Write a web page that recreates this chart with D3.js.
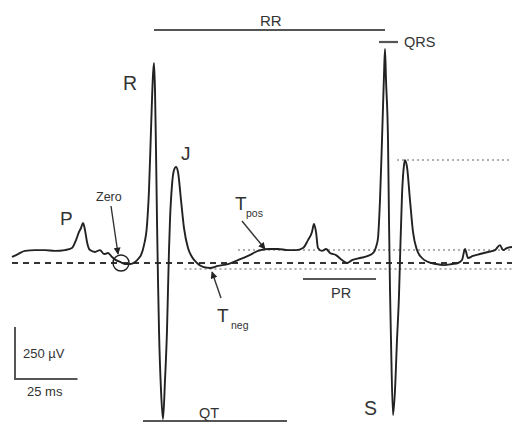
<!DOCTYPE html>
<html><head><meta charset="utf-8">
<script src="https://cdn.jsdelivr.net/npm/d3@7"></script>
<style>html,body{margin:0;padding:0;background:#fff;}svg{display:block;font-family:"Liberation Sans",Arial,sans-serif;}</style>
</head><body>
<svg id="c" width="512" height="423"></svg>
<script>
// time (ms) and potential (µV) of the recorded trace
const timeMs = [0,2.4,5.2,9.2,13.2,17.2,21.2,24,25.6,26.8,27.6,28.4,29.2,30,31.2,33.2,35.2,36.8,38.4,40,41.6,43.2,45.2,47.2,49.2,50.8,51.6,52.8,54,54.8,55.6,56.4,56.8,57.2,57.6,58,58.4,58.8,59.6,60.4,61.2,62,62.4,62.8,63.2,64,64.8,65.6,66.4,67.6,68.8,70.4,72,74,76.4,79.2,82.4,86.4,90.4,94.4,98.4,102.4,106.4,110.4,113.6,116.4,118.4,120,120.8,121.6,122.4,124,125.6,127.2,129.6,132,134,136,139.2,142.4,144.8,145.6,146.4,147.2,148,148.8,149.2,149.6,150.4,150.8,151.2,151.6,152.4,153.2,154,154.8,155.2,156,156.8,157.2,158,159.2,160.4,162,164,166.4,169.6,172.8,176,178.4,180,181.2,182.4,184.4,187.2,190.4,193.2,195.2,196.4,198,200];
const microV = [29,43,58,62,62,58,62,72,110,149,168,192,158,101,62,53,62,43,48,29,14,5,-5,-5,5,24,38,86,182,350,638,902,960,830,542,206,-82,-322,-610,-749,-562,-322,-130,62,206,374,446,461,437,302,168,72,29,0,-19,-24,-14,-5,14,34,58,67,67,62,62,72,110,149,187,149,72,58,67,48,38,14,0,14,24,34,53,77,120,302,590,902,1027,878,590,206,-130,-370,-730,-610,-370,-154,14,326,470,494,461,302,149,62,24,5,-5,-10,-5,0,14,67,24,34,43,53,62,86,62,72,77];

// interval annotations (ms)
const intervalLabels = ["RR","QRS","PR","QT"];
const intervalStart  = [56.8,146.8,116.4,52.4];
const intervalEnd    = [149.2,154.4,145.6,110];

// reference levels (µV) and the time they start (ms)
const levelValues = [494,62,-29];
const levelStart  = [154,90.4,69];

// wave labels
const waveLabels = ["P","R","J","S"];
// scale bar
const scaleBarMs = 25, scaleBarUV = 250;

const svg = d3.select("#c");
const x = d3.scaleLinear().domain([0,200]).range([12,512]);
const y = d3.scaleLinear().domain([0,960]).range([263,63]);

// reference dotted lines
levelValues.forEach((v,i)=>{
  svg.append("line").attr("x1",x(levelStart[i])).attr("x2",512)
    .attr("y1",y(v)).attr("y2",y(v))
    .attr("stroke","#b0b0b0").attr("stroke-width",2).attr("stroke-dasharray","2,3");
});
// zero baseline dashed
svg.append("line").attr("x1",12).attr("x2",512).attr("y1",y(0)).attr("y2",y(0))
  .attr("stroke","#333").attr("stroke-width",2).attr("stroke-dasharray","6,5");

// trace
const line = d3.line().x((d,i)=>x(timeMs[i])).y(d=>y(d)).curve(d3.curveMonotoneX);
svg.append("path").datum(microV).attr("d",line).attr("fill","none")
  .attr("stroke","#222").attr("stroke-width",1.9).attr("stroke-linejoin","round");

// interval bars
const barY = [30,42,279,421];
intervalLabels.forEach((lab,i)=>{
  svg.append("line").attr("x1",x(intervalStart[i])).attr("x2",x(intervalEnd[i]))
    .attr("y1",barY[i]).attr("y2",barY[i]).attr("stroke","#555").attr("stroke-width",2.2);
});
const txt = (s,tx,ty,fs)=>svg.append("text").attr("x",tx).attr("y",ty).attr("font-size",fs).attr("fill","#333").text(s);
txt(intervalLabels[0],260,26,15);
txt(intervalLabels[1],404,47,14.5);
txt(intervalLabels[2],331,298,14.5);
txt(intervalLabels[3],199,418,14.5);

// wave letters
txt(waveLabels[0],60,225,19);
txt(waveLabels[1],123,90,19.5);
txt(waveLabels[2],181,160,19);
txt(waveLabels[3],364,415,19.5);
txt("T",235,210,19); txt("pos",246,217,10.5);
txt("T",217,322,19); txt("neg",231,329,10.5);
txt("Zero",96,201,12.5);

// arrows
const defs = svg.append("defs");
defs.append("marker").attr("id","ah").attr("viewBox","0 0 10 10").attr("refX",9).attr("refY",5)
  .attr("markerWidth",5.5).attr("markerHeight",5).attr("orient","auto")
  .append("path").attr("d","M0,0L10,5L0,10Z").attr("fill","#222");
const arrow=(x1,y1,x2,y2)=>svg.append("line").attr("x1",x1).attr("y1",y1).attr("x2",x2).attr("y2",y2)
  .attr("stroke","#333").attr("stroke-width",1.4).attr("marker-end","url(#ah)");
arrow(111,206,118,254);
arrow(242,221,265,249);
arrow(221,298,212,272);

// zero circle
svg.append("circle").attr("cx",x(43.6)).attr("cy",y(0)).attr("r",8)
  .attr("fill","none").attr("stroke","#222").attr("stroke-width",1.4);

// scale bar
const sbX = 15, sbY = 379;
svg.append("path").attr("d",`M${sbX},${sbY - (y(0)-y(scaleBarUV))}L${sbX},${sbY}L${sbX + (x(scaleBarMs)-x(0))},${sbY}`)
  .attr("fill","none").attr("stroke","#555").attr("stroke-width",2);
txt("250 µV",23,358,13);
txt("25 ms",27,396,13);
</script>
</body></html>
